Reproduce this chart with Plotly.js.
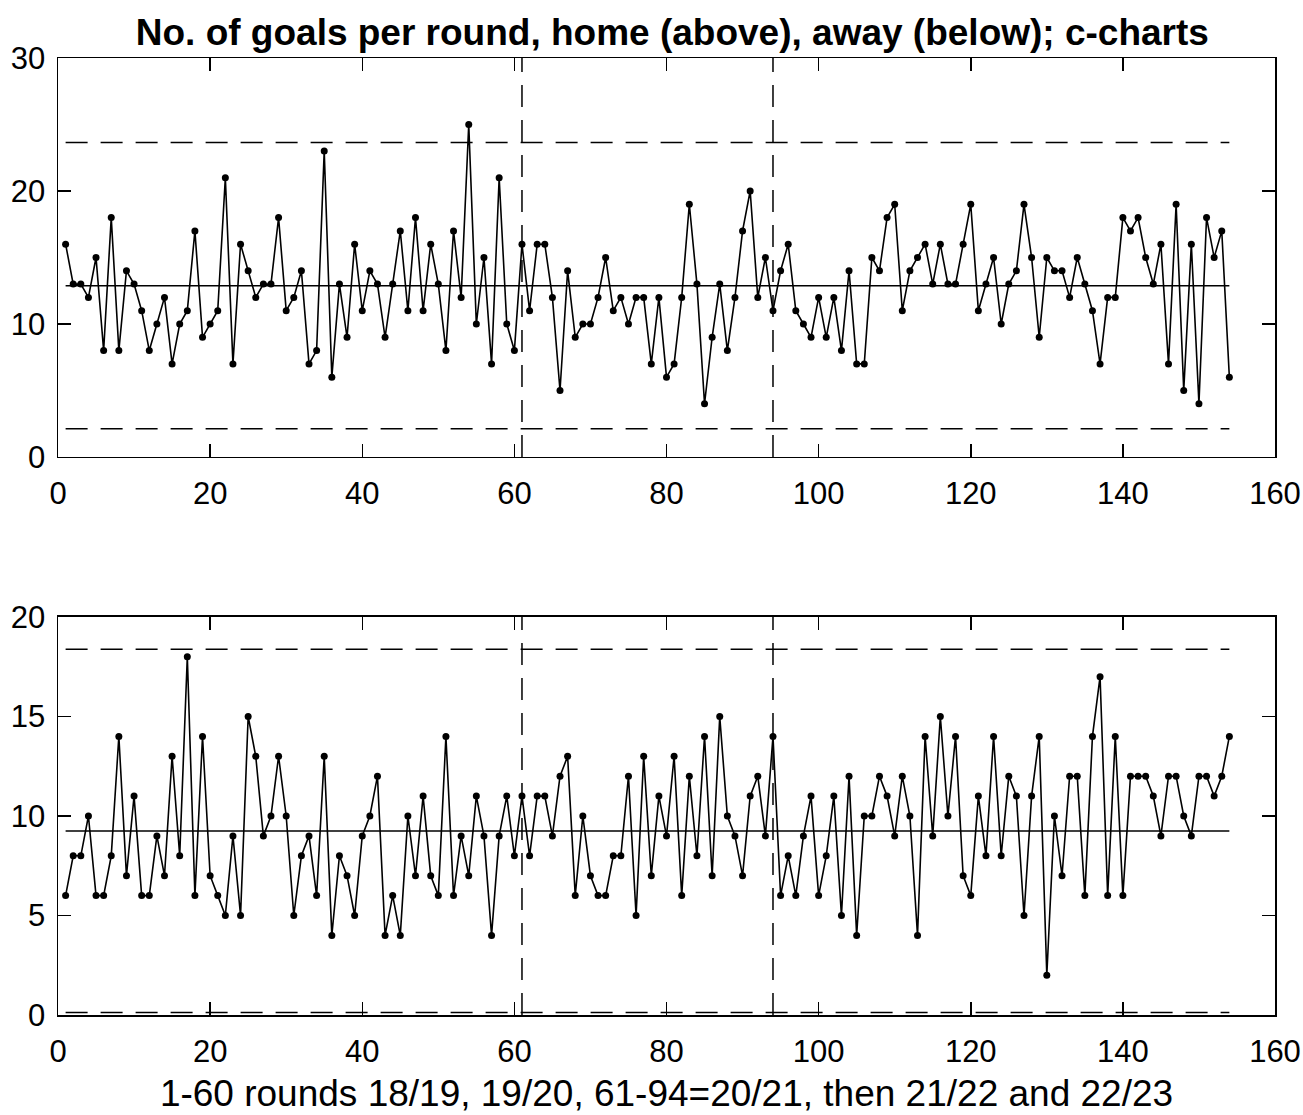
<!DOCTYPE html>
<html>
<head>
<meta charset="utf-8">
<script src="https://cdn.plot.ly/plotly-3.0.1.min.js"></script>
<style>html,body{margin:0;padding:0;background:#fff;}#chart{width:1303px;height:1115px;}</style>
</head>
<body>
<div id="chart"></div>
<script>
// Goals per round, home (top chart)
const homeGoals = [16,13,13,12,15,8,18,8,14,13,11,8,10,12,7,10,11,17,9,10,11,21,7,16,14,12,13,13,18,11,12,14,7,8,23,6,13,9,16,11,14,
13,9,13,17,11,18,11,16,13,8,17,12,25,10,15,7,21,10,8,16,11,16,16,12,5,14,9,10,10,12,15,11,12,10,12,12,7,12,6,7,
12,19,13,4,9,13,8,12,17,20,12,15,11,14,16,11,10,9,12,9,12,8,14,7,7,15,14,18,19,11,14,15,16,13,16,13,13,16,19,11,
13,15,10,13,14,19,15,9,15,14,14,12,15,13,11,7,12,12,18,17,18,15,13,16,7,19,5,16,4,18,15,17,6];
// Goals per round, away (bottom chart)
const awayGoals = [6,8,8,10,6,6,8,14,7,11,6,6,9,7,13,8,18,6,14,7,6,5,9,5,15,13,9,10,13,10,5,8,9,6,13,4,8,7,5,9,10,
12,4,6,4,10,7,11,7,6,14,6,9,7,11,9,4,9,11,8,11,8,11,11,9,12,13,6,10,7,6,6,8,8,12,5,13,7,11,9,13,
6,12,8,14,7,15,10,9,7,11,12,9,14,6,8,6,9,11,6,8,11,5,12,4,10,10,12,11,9,12,10,4,14,9,15,10,14,7,6,11,
8,14,8,12,11,5,11,14,2,10,7,12,12,6,14,17,6,14,6,12,12,12,11,9,12,12,10,9,12,12,11,12,14];
const rounds = homeGoals.map((_, i) => i + 1);
// center lines (c-bar)
const cbarHome = 12.88;
const cbarAway = 9.25;
// season breaks (vertical dashed lines)
const seasonBreaks = [61, 94];
const xTicks = [0,20,40,60,80,100,120,140,160];
const yTicksHome = [0,10,20,30];
const yTicksAway = [0,5,10,15,20];

const FONT = '"Liberation Sans", Arial, Helvetica, sans-serif';
const lineX = [rounds[0], rounds[rounds.length-1]];
const dash = '22px,13px';

function hline(val, xa, ya, d) {
  return {x: lineX, y: [val, val], xaxis: xa, yaxis: ya, mode: 'lines',
    line: {color: '#000', width: 1.5, dash: d}, hoverinfo: 'skip', showlegend: false};
}
function limits(c) { return [c + 3*Math.sqrt(c), Math.max(0, c - 3*Math.sqrt(c))]; }
const [uclH, lclH] = limits(cbarHome);
const [uclA, lclA] = limits(cbarAway);

const traces = [
  hline(cbarHome, 'x', 'y', 'solid'),
  hline(uclH, 'x', 'y', dash),
  hline(lclH, 'x', 'y', dash),
  {x: rounds, y: homeGoals, xaxis: 'x', yaxis: 'y', mode: 'lines+markers',
   line: {color: '#000', width: 1.6}, marker: {color: '#000', size: 7}, showlegend: false},
  hline(cbarAway, 'x2', 'y2', 'solid'),
  hline(uclA, 'x2', 'y2', dash),
  hline(lclA, 'x2', 'y2', dash),
  {x: rounds, y: awayGoals, xaxis: 'x2', yaxis: 'y2', mode: 'lines+markers',
   line: {color: '#000', width: 1.6}, marker: {color: '#000', size: 7}, showlegend: false}
];

const shapes = [];
seasonBreaks.forEach(b => {
  shapes.push({type: 'line', xref: 'x', yref: 'y', x0: b, x1: b, y0: 0, y1: 30,
    line: {color: '#000', width: 1.5, dash: dash}});
  shapes.push({type: 'line', xref: 'x2', yref: 'y2', x0: b, x1: b, y0: 0, y1: 20,
    line: {color: '#000', width: 1.5, dash: dash}});
});

const axCommon = {
  showline: true, linecolor: '#000', linewidth: 1.5, mirror: 'ticks',
  ticks: 'inside', ticklen: 13, tickwidth: 1.5, tickcolor: '#000',
  showgrid: false, zeroline: false, tickfont: {family: FONT, size: 31, color: '#000'}
};
const xCommon = Object.assign({}, axCommon, {range: [0, 160], tickvals: xTicks, ticklabelstandoff: 8});
const yCommon = Object.assign({}, axCommon, {ticklabelstandoff: 5});

const layout = {
  width: 1303, height: 1115,
  margin: {l: 58, r: 28, t: 58, b: 100},
  paper_bgcolor: '#fff', plot_bgcolor: '#fff',
  font: {family: FONT, color: '#000'},
  title: {text: '<b>No. of goals per round, home (above), away (below); c-charts</b>',
    font: {family: FONT, size: 37, color: '#000'}, x: 0.516, xanchor: 'center', y: 0.971, yanchor: 'middle'},
  xaxis: Object.assign({}, xCommon, {anchor: 'y'}),
  yaxis: Object.assign({}, yCommon, {range: [0, 30], tickvals: yTicksHome, domain: [0.5831, 1], anchor: 'x'}),
  xaxis2: Object.assign({}, xCommon, {anchor: 'y2',
    title: {text: '1-60 rounds 18/19, 19/20, 61-94=20/21, then 21/22 and 22/23',
      font: {family: FONT, size: 37, color: '#000'}, standoff: 12}}),
  yaxis2: Object.assign({}, yCommon, {range: [0, 20], tickvals: yTicksAway, domain: [0, 0.4159], anchor: 'x2'}),
  shapes: shapes
};

Plotly.newPlot('chart', traces, layout, {displayModeBar: false, staticPlot: true});
</script>
</body>
</html>
